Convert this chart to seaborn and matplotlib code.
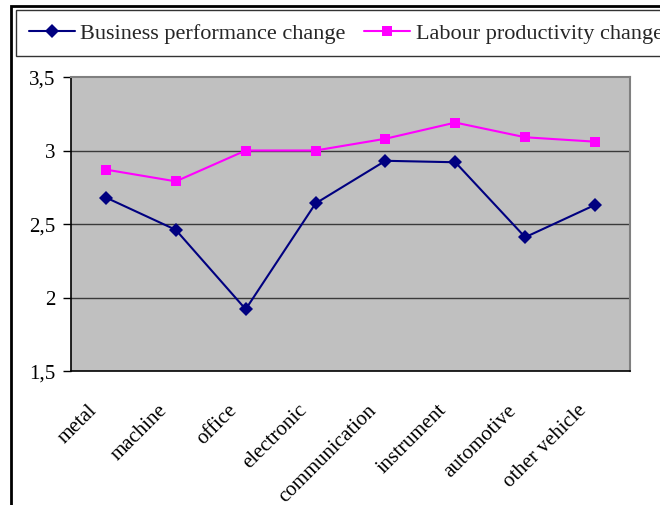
import matplotlib
matplotlib.use("Agg")
import matplotlib.pyplot as plt
import matplotlib.patches as mpatches
import matplotlib.transforms as mtransforms
import numpy as np
import pandas as pd
import seaborn as sns

categories = ["metal", "machine", "office", "electronic", "communication",
              "instrument", "automotive", "other vehicle"]
business_change = [2.68, 2.46, 1.92, 2.64, 2.93, 2.92, 2.41, 2.63]
labour_change = [2.87, 2.79, 3.00, 3.00, 3.08, 3.19, 3.09, 3.06]
series_names = ["Business performance change", "Labour productivity change"]
y_ticks = [1.5, 2.0, 2.5, 3.0, 3.5]
y_tick_labels = ["1,5", "2", "2,5", "3", "3,5"]

df = pd.DataFrame({
    "category": categories * 2,
    "value": business_change + labour_change,
    "series": [series_names[0]] * len(categories) + [series_names[1]] * len(categories),
})
df["pos"] = df["category"].map({c: i for i, c in enumerate(categories)})

sns.set_theme(style="white")
plt.rcParams["font.family"] = ["Liberation Serif", "DejaVu Serif"]

W, H = 660, 506
fig = plt.figure(figsize=(W / 100, H / 100), dpi=100)
fig.patch.set_facecolor("white")
ax = fig.add_axes([71 / W, 1 - 372 / H, (630 - 71) / W, (372 - 78) / H])
ax.set_facecolor("#C0C0C0")

palette = {series_names[0]: "#000080", series_names[1]: "#FF00FF"}
markers = {series_names[0]: "D", series_names[1]: "s"}
sns.lineplot(data=df, x="pos", y="value", hue="series", style="series",
             palette=palette, markers=markers, dashes=False, markersize=7,
             markeredgewidth=0, linewidth=1.5, ax=ax, legend=False)

ax.set_xlim(-0.5, len(categories) - 0.5)
ax.set_ylim(1.5, 3.5)
ax.set_xlabel("")
ax.set_ylabel("")

for y in [2.0, 2.5, 3.0]:
    ax.axhline(y, color="#3a3a3a", lw=1.0, zorder=0.5)

ax.set_yticks(y_ticks)
ax.set_yticklabels(y_tick_labels, fontsize=15)
ax.set_xticks(range(len(categories)))
ax.set_xticklabels(categories, rotation=45, ha="right", rotation_mode="anchor", fontsize=15)
ax.set_xticks(np.arange(-0.5, len(categories)), minor=True)
ax.tick_params(axis="x", which="major", length=0, pad=21)
ax.tick_params(axis="x", which="minor", length=6, width=1, color="black", direction="out")
ax.tick_params(axis="y", length=6, width=1, color="black", direction="out", pad=5.5, left=True)
ax.tick_params(colors="black", labelcolor="black")

# nudge the slanted category labels left of their slot centres
shift = mtransforms.ScaledTranslation(-18 / 100, 0, fig.dpi_scale_trans)
for lab in ax.get_xticklabels():
    lab.set_transform(lab.get_transform() + shift)

for side in ["left", "bottom"]:
    ax.spines[side].set_color("black")
    ax.spines[side].set_linewidth(1.2)
for side in ["top", "right"]:
    ax.spines[side].set_color("#808080")
    ax.spines[side].set_linewidth(1.5)

# outer chart frame
fig.add_artist(mpatches.Rectangle((11 / W, -0.1), 2, 1 + 0.1 - 7 / H,
                                  transform=fig.transFigure, fill=False,
                                  edgecolor="black", lw=2))

handles = [
    plt.Line2D([], [], color=palette[s], marker=markers[s], markersize=7,
               markeredgewidth=0, lw=1.5)
    for s in series_names
]
leg = fig.legend(handles, series_names, loc="upper left",
                 bbox_to_anchor=(16 / W, 1 - 11 / H), ncol=2, frameon=True,
                 fancybox=False, edgecolor="black", fontsize=16,
                 handlelength=2.07, handletextpad=0.23, columnspacing=0.86,
                 borderpad=0.58, borderaxespad=0)
leg.get_frame().set_linewidth(1.0)

fig.savefig("out.png", dpi=100)
